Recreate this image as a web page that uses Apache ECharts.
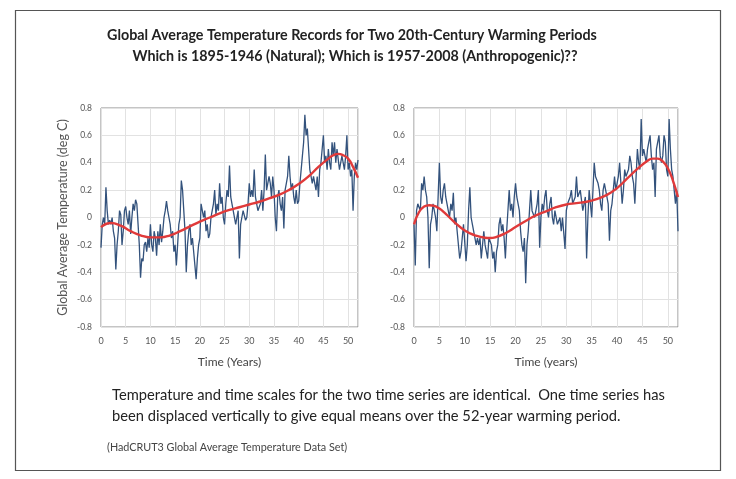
<!DOCTYPE html>
<html><head><meta charset="utf-8">
<script src="https://cdn.jsdelivr.net/npm/echarts@6/dist/echarts.min.js"></script>
<style>html,body{margin:0;padding:0;background:#fff}#c{width:736px;height:479px}</style>
</head><body><div id="c"></div>
<script>
// Quarterly samples (step 0.25 year), years 0..52
const leftTemps = [
-0.22,-0.05,0.0,-0.05, 0.22,0.05,-0.05,-0.02, -0.05,0.0,-0.1,-0.15, -0.38,-0.2,-0.1,0.05,
0.02,-0.2,-0.1,0.05, 0.08,0.0,-0.05,0.05, -0.12,0.0,0.1,0.05, 0.13,0.1,-0.05,-0.2,
-0.44,-0.3,-0.32,-0.2, -0.18,-0.25,-0.15,-0.22, -0.05,-0.2,-0.25,-0.1, -0.15,-0.28,-0.1,-0.2,
-0.05,-0.18,-0.1,0.0, 0.05,0.12,0.05,0.0, -0.05,-0.15,-0.1,-0.25, -0.2,-0.35,-0.2,-0.05,
0.0,0.27,0.2,0.05, -0.1,-0.4,-0.2,-0.1, -0.05,-0.2,-0.15,-0.25, -0.35,-0.45,-0.3,-0.2,
-0.15,0.1,0.05,0.0, 0.05,-0.1,-0.05,-0.15, -0.12,0.0,0.05,0.1, 0.2,0.02,0.1,0.05,
0.25,0.1,0.15,0.0, -0.05,0.1,0.2,0.15, 0.38,0.15,0.1,0.05, 0.05,-0.05,0.0,0.05,
-0.3,-0.05,0.0,0.05, 0.05,-0.02,0.0,0.1, 0.25,0.15,0.2,0.15, 0.35,0.15,0.1,0.05,
0.05,0.1,0.2,0.05, 0.2,0.46,0.2,0.25, 0.3,0.25,0.15,0.3, 0.2,0.0,-0.1,0.15,
0.2,0.1,0.05,0.15, -0.08,0.2,0.25,0.3, 0.45,0.3,0.2,0.25, 0.15,0.1,0.2,0.1,
0.12,0.25,0.35,0.45, 0.55,0.75,0.6,0.65, 0.5,0.35,0.3,0.25, 0.3,0.25,0.2,0.3,
0.15,0.35,0.4,0.5, 0.6,0.4,0.45,0.35, 0.5,0.4,0.35,0.55, 0.45,0.55,0.4,0.5,
0.5,0.35,0.4,0.45, 0.4,0.35,0.45,0.6, 0.35,0.4,0.3,0.35, 0.05,0.3,0.4,0.35,
0.42];
const rightTemps = [
-0.05,-0.35,0.05,0.1, 0.1,0.05,0.25,0.2, 0.3,0.2,0.15,0.0, -0.37,-0.05,0.0,0.1,
0.05,0.0,-0.1,0.15, 0.4,0.15,0.1,0.2, 0.25,0.15,0.15,0.05, 0.0,0.1,0.05,0.18,
-0.05,0.0,-0.1,-0.2, -0.3,-0.25,-0.15,-0.05, -0.05,-0.32,-0.2,0.05, 0.22,0.0,-0.05,-0.1,
-0.1,-0.2,-0.15,-0.2, -0.15,-0.3,-0.2,-0.1, -0.2,-0.25,-0.3,-0.15, -0.15,-0.2,-0.3,-0.25,
-0.4,-0.25,-0.2,-0.05, 0.0,-0.1,-0.05,-0.15, -0.3,-0.1,-0.1,0.2, 0.05,0.1,0.0,0.15,
0.25,0.15,0.15,0.05, -0.1,-0.2,-0.25,-0.15, -0.48,-0.2,-0.1,0.05, 0.2,0.05,0.05,0.0,
0.0,0.1,0.2,-0.22, 0.0,0.1,0.05,0.15, 0.2,0.05,0.0,0.1, 0.15,0.0,-0.05,0.05,
0.05,-0.05,-0.05,0.0, -0.1,0.0,0.0,-0.23, 0.05,0.1,0.1,0.15, 0.2,0.1,0.1,0.15,
0.3,0.15,0.15,0.2, 0.2,0.05,0.1,0.15, -0.3,0.0,0.2,0.1, 0.0,0.2,0.4,0.3,
0.3,0.25,0.2,0.1, 0.05,0.2,0.25,0.2, 0.15,0.1,-0.17,0.05, 0.1,0.2,0.3,0.2,
0.25,0.3,0.4,0.25, 0.1,0.2,0.35,0.3, 0.3,0.35,0.45,0.4, 0.3,0.25,0.1,0.3,
0.5,0.4,0.35,0.72, 0.45,0.5,0.45,0.4, 0.5,0.55,0.6,0.45, 0.35,0.4,0.15,0.5,
0.5,0.6,0.45,0.4, 0.45,0.6,0.55,0.35, 0.3,0.72,0.5,0.35, 0.3,0.2,0.1,0.2,
-0.1];
// Smoothed (red) curves
const leftSmoothYears = [0,2,4,6,8,10,12,14,16,18,20,22,24,26,28,30,32,34,36,38,40,42,44,46,47,48,49,50,51,52];
const leftSmoothVals  = [-0.07,-0.04,-0.06,-0.1,-0.13,-0.145,-0.145,-0.13,-0.1,-0.065,-0.03,0.0,0.03,0.055,0.075,0.095,0.115,0.14,0.165,0.2,0.245,0.3,0.37,0.43,0.455,0.465,0.455,0.43,0.37,0.29];
const rightSmoothYears = [0,1,2,3,4,5,6,7,8,10,12,14,15,16,18,20,22,24,26,28,30,32,34,36,38,40,42,44,46,47,48,49,50,51,52];
const rightSmoothVals  = [-0.05,0.04,0.08,0.09,0.085,0.065,0.035,0.0,-0.035,-0.095,-0.13,-0.148,-0.15,-0.145,-0.115,-0.07,-0.025,0.015,0.045,0.075,0.095,0.105,0.115,0.135,0.165,0.215,0.285,0.355,0.415,0.43,0.43,0.41,0.36,0.27,0.15];
const xTickStep = 5, yMin = -0.8, yMax = 0.8, yStep = 0.2, xMax = 52;

const titleLines = ['Global Average Temperature Records for Two 20th-Century Warming Periods',
                    'Which is 1895-1946 (Natural); Which is 1957-2008 (Anthropogenic)??'];
const noteLines = ['Temperature and time scales for the two time series are identical.  One time series has',
                   'been displaced vertically to give equal means over the 52-year warming period.'];
const sourceText = '(HadCRUT3 Global Average Temperature Data Set)';
const yName = 'Global Average Temperature (deg C)';
const xNames = ['Time (Years)', 'Time (years)'];

const pairs = (arr) => arr.map((v, i) => [i / 4, v]);
const zip = (xs, ys) => xs.map((x, i) => [x, ys[i]]);

const FONT = 'Lato, "Open Sans", sans-serif';
const grids = [
  {left: 101, top: 108, width: 257, height: 219, show: true, borderColor: '#8a8a8a', borderWidth: 1},
  {left: 414, top: 108, width: 264, height: 219, show: true, borderColor: '#8a8a8a', borderWidth: 1}
];
const mkX = (gi) => ({
  type: 'value', gridIndex: gi, min: 0, max: xMax, interval: xTickStep,
  name: xNames[gi], nameLocation: 'middle', nameGap: 29,
  nameTextStyle: {fontFamily: FONT, fontSize: 12, color: '#444'},
  axisLine: {show: false}, axisTick: {show: false},
  axisLabel: {fontFamily: FONT, fontSize: 9, color: '#555', margin: 10, showMaxLabel: false,
    formatter: v => (v % xTickStep === 0 ? String(v) : '')},
  splitLine: {show: true, lineStyle: {color: '#e2e2e2', width: 1}}
});
const mkY = (gi) => ({
  type: 'value', gridIndex: gi, min: yMin, max: yMax, interval: yStep,
  name: gi === 0 ? yName : '', nameLocation: 'middle', nameGap: 32, nameRotate: 90,
  nameTextStyle: {fontFamily: FONT, fontSize: 12.5, color: '#555'},
  axisLine: {show: false}, axisTick: {show: false},
  axisLabel: {fontFamily: FONT, fontSize: 8.5, color: '#555', margin: 9,
    formatter: v => (Math.abs(v) < 1e-9 ? '0' : v.toFixed(1))},
  splitLine: {show: true, lineStyle: {color: '#e2e2e2', width: 1}}
});
const blue = (gi, arr) => ({type: 'line', xAxisIndex: gi, yAxisIndex: gi, data: pairs(arr),
  showSymbol: false, lineStyle: {color: '#33527c', width: 1.3}, z: 2, silent: true});
const red = (gi, xs, ys) => ({type: 'line', xAxisIndex: gi, yAxisIndex: gi, data: zip(xs, ys),
  smooth: 0.5, showSymbol: false, lineStyle: {color: '#e03a3a', width: 2.4}, z: 3, silent: true});

const chart = echarts.init(document.getElementById('c'), null, {renderer: 'canvas'});
chart.setOption({
  backgroundColor: '#fff',
  animation: false,
  grid: grids,
  xAxis: [mkX(0), mkX(1)],
  yAxis: [mkY(0), mkY(1)],
  series: [blue(0, leftTemps), red(0, leftSmoothYears, leftSmoothVals),
           blue(1, rightTemps), red(1, rightSmoothYears, rightSmoothVals)],
  graphic: [
    {type: 'rect', shape: {x: 15.5, y: 10.5, width: 705, height: 460}, style: {fill: 'none', stroke: '#555', lineWidth: 1.2}, silent: true},
    {type: 'text', x: 352, y: 35, style: {text: titleLines[0], fontFamily: FONT, fontWeight: 'bold', fontSize: 14.3, fill: '#222', align: 'center', verticalAlign: 'middle'}},
    {type: 'text', x: 355, y: 56, style: {text: titleLines[1], fontFamily: FONT, fontWeight: 'bold', fontSize: 14.3, fill: '#222', align: 'center', verticalAlign: 'middle'}},
    {type: 'text', x: 112, y: 395, style: {text: noteLines[0], fontFamily: FONT, fontSize: 14.7, fill: '#222', align: 'left', verticalAlign: 'middle'}},
    {type: 'text', x: 112, y: 416, style: {text: noteLines[1], fontFamily: FONT, fontSize: 14.7, fill: '#222', align: 'left', verticalAlign: 'middle'}},
    {type: 'text', x: 107, y: 448, style: {text: sourceText, fontFamily: FONT, fontSize: 10.8, fill: '#444', align: 'left', verticalAlign: 'middle'}}
  ]
});
</script></body></html>
